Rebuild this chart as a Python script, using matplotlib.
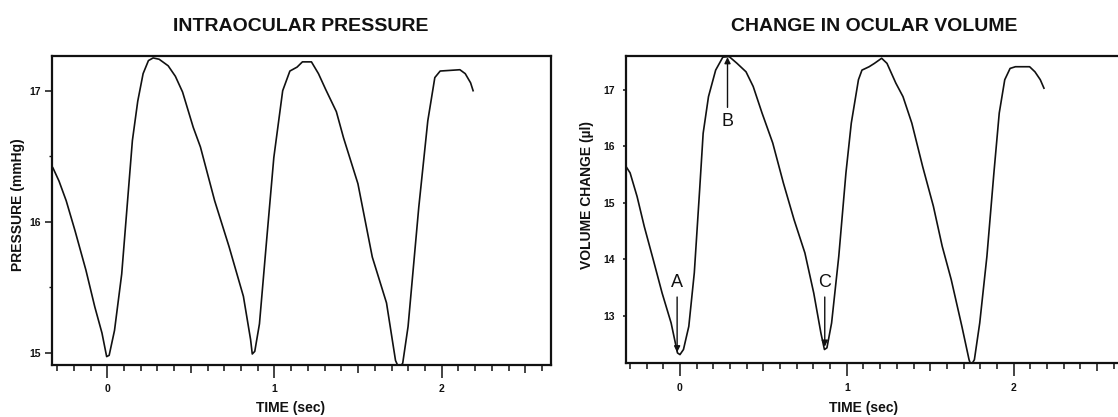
import matplotlib
matplotlib.use("Agg")
import matplotlib.pyplot as plt
from matplotlib import font_manager

# intraocular pressure trace (mmHg) over time (sec)
t_pressure = [-0.34, -0.325, -0.289, -0.246, -0.193, -0.128, -0.075, -0.032, -0.004, 0.011,
              0.043, 0.086, 0.118, 0.150, 0.182, 0.214, 0.246, 0.274, 0.310, 0.364,
              0.407, 0.450, 0.514, 0.557, 0.642, 0.728, 0.814, 0.857, 0.867, 0.882,
              0.910, 0.953, 0.996, 1.049, 1.092, 1.135, 1.167, 1.221, 1.263, 1.306,
              1.370, 1.413, 1.499, 1.585, 1.670, 1.724, 1.745, 1.767, 1.799, 1.863,
              1.917, 1.959, 1.991, 2.109, 2.141, 2.173, 2.188]
pressure = [16.44, 16.41, 16.31, 16.16, 15.93, 15.63, 15.35, 15.15, 14.97, 14.98,
            15.17, 15.60, 16.11, 16.62, 16.92, 17.13, 17.23, 17.25, 17.24, 17.19,
            17.11, 16.99, 16.72, 16.57, 16.16, 15.81, 15.43, 15.10, 14.99, 15.01,
            15.22, 15.86, 16.49, 17.00, 17.15, 17.18, 17.22, 17.22, 17.13, 17.01,
            16.84, 16.64, 16.29, 15.73, 15.38, 14.94, 14.88, 14.92, 15.20, 16.11,
            16.77, 17.10, 17.15, 17.16, 17.13, 17.06, 17.00]

# change in ocular volume (microlitres) over time (sec)
t_volume = [-0.34, -0.336, -0.299, -0.257, -0.214, -0.160, -0.107, -0.053, -0.015, 0.0,
            0.021, 0.053, 0.086, 0.118, 0.139, 0.171, 0.214, 0.257, 0.295, 0.342,
            0.396, 0.439, 0.492, 0.556, 0.620, 0.684, 0.749, 0.802, 0.845, 0.866,
            0.881, 0.909, 0.952, 0.995, 1.027, 1.070, 1.091, 1.134, 1.166, 1.209,
            1.241, 1.294, 1.337, 1.390, 1.455, 1.519, 1.572, 1.626, 1.690, 1.733,
            1.745, 1.765, 1.797, 1.840, 1.882, 1.914, 1.947, 1.979, 2.011, 2.096,
            2.128, 2.160, 2.182]
volume = [15.72, 15.70, 15.53, 15.11, 14.58, 13.99, 13.40, 12.87, 12.34, 12.31,
          12.40, 12.81, 13.76, 15.23, 16.23, 16.88, 17.35, 17.58, 17.59, 17.47,
          17.32, 17.06, 16.59, 16.06, 15.35, 14.70, 14.11, 13.40, 12.69, 12.40,
          12.43, 12.87, 14.05, 15.53, 16.41, 17.18, 17.35, 17.41, 17.47, 17.56,
          17.47, 17.12, 16.88, 16.41, 15.64, 14.94, 14.23, 13.64, 12.81, 12.22,
          12.12, 12.22, 12.87, 14.05, 15.53, 16.59, 17.18, 17.38, 17.41, 17.41,
          17.32, 17.18, 17.03]

# labelled points on the volume trace: (label, time, text height, arrow tip)
marks = [("A", -0.017, 13.58, 12.35),
         ("B", 0.285, 16.44, 17.58),
         ("C", 0.868, 13.58, 12.45)]

x_major = [0, 1, 2]
x_half = [0.5, 1.5, 2.5]
x_minor = [i / 10 for i in range(-3, 27) if i % 5 != 0]

have = {f.name for f in font_manager.fontManager.ttflist}
narrow = "Liberation Sans Narrow" if "Liberation Sans Narrow" in have else "Liberation Sans"
plt.rcParams['font.family'] = [narrow, 'DejaVu Sans']
ink = '#111111'

fig = plt.figure(figsize=(11.18, 4.17), dpi=100)
ax1 = fig.add_axes([0.0465, 0.1247, 0.4459, 0.7417])
ax2 = fig.add_axes([0.5597, 0.1288, 0.4439, 0.7369])


def style_axes(ax):
    for s in ax.spines.values():
        s.set_linewidth(1.6)
        s.set_color(ink)
    ax.set_xticks(x_major + x_half)
    ax.set_xticklabels(['0', '1', '2', '', '', ''])
    ax.set_xticks(x_minor, minor=True)
    ax.tick_params(axis='x', which='major', direction='out', length=9, width=1.1,
                   pad=5, labelsize=7.5, colors=ink)
    ax.tick_params(axis='x', which='minor', direction='out', length=4, width=1.1, colors=ink)
    # the half-second ticks are a bit longer than the tenths
    for tk in ax.xaxis.get_major_ticks()[3:]:
        tk.tick1line.set_markersize(6)
    for lab in ax.get_xticklabels() + ax.get_yticklabels():
        lab.set_fontweight('bold')
    ax.set_xlabel('TIME (sec)', fontsize=10, fontweight='bold', color=ink)


# left panel: pressure
ax1.plot(t_pressure, pressure, color=ink, lw=1.2)
ax1.set_xlim(-0.331, 2.651)
ax1.set_ylim(14.906, 17.267)
ax1.set_yticks([15, 16, 17])
ax1.set_yticks([15.5, 16.5], minor=True)
ax1.tick_params(axis='y', which='major', direction='out', length=5, width=1.1,
                pad=3, labelsize=7.5, colors=ink)
ax1.tick_params(axis='y', which='minor', direction='out', length=2.5, width=1.0, colors=ink)
style_axes(ax1)
ax1.set_ylabel('PRESSURE (mmHg)', fontsize=10, fontweight='bold', color=ink)
ax1.yaxis.set_label_coords(-0.068, 0.517)
ax1.xaxis.set_label_coords(0.479, -0.139)
ax1.set_title('INTRAOCULAR PRESSURE', fontsize=14, fontweight='bold', color=ink, pad=18)

# right panel: volume change
ax2.plot(t_volume, volume, color=ink, lw=1.2)
ax2.set_xlim(-0.325, 2.65)
ax2.set_ylim(12.156, 17.60)
ax2.set_yticks([13, 14, 15, 16, 17])
ax2.tick_params(axis='y', which='major', direction='out', length=2, width=1.1,
                pad=6, labelsize=7.5, colors=ink)
style_axes(ax2)
ax2.set_ylabel('VOLUME CHANGE (\u00b5l)', fontsize=10, fontweight='bold', color=ink)
ax2.yaxis.set_label_coords(-0.078, 0.549)
ax2.xaxis.set_label_coords(0.480, -0.145)
ax2.set_title('CHANGE IN OCULAR VOLUME', fontsize=14, fontweight='bold', color=ink, pad=18)

for ax in (ax1, ax2):
    ax.yaxis.label.set_va('center')
    ax.xaxis.label.set_va('center')

for lab, t, ytxt, ytip in marks:
    ax2.text(t, ytxt, lab, fontsize=13, family=['Liberation Sans', 'DejaVu Sans'],
             ha='center', va='center', color=ink)
    start = ytxt - 0.25 if ytip < ytxt else ytxt + 0.25
    ax2.annotate('', xy=(t, ytip), xytext=(t, start),
                 arrowprops=dict(arrowstyle='-|>', color=ink, lw=1.0,
                                 mutation_scale=9, shrinkA=0, shrinkB=0))

fig.savefig('out.png', dpi=100)
